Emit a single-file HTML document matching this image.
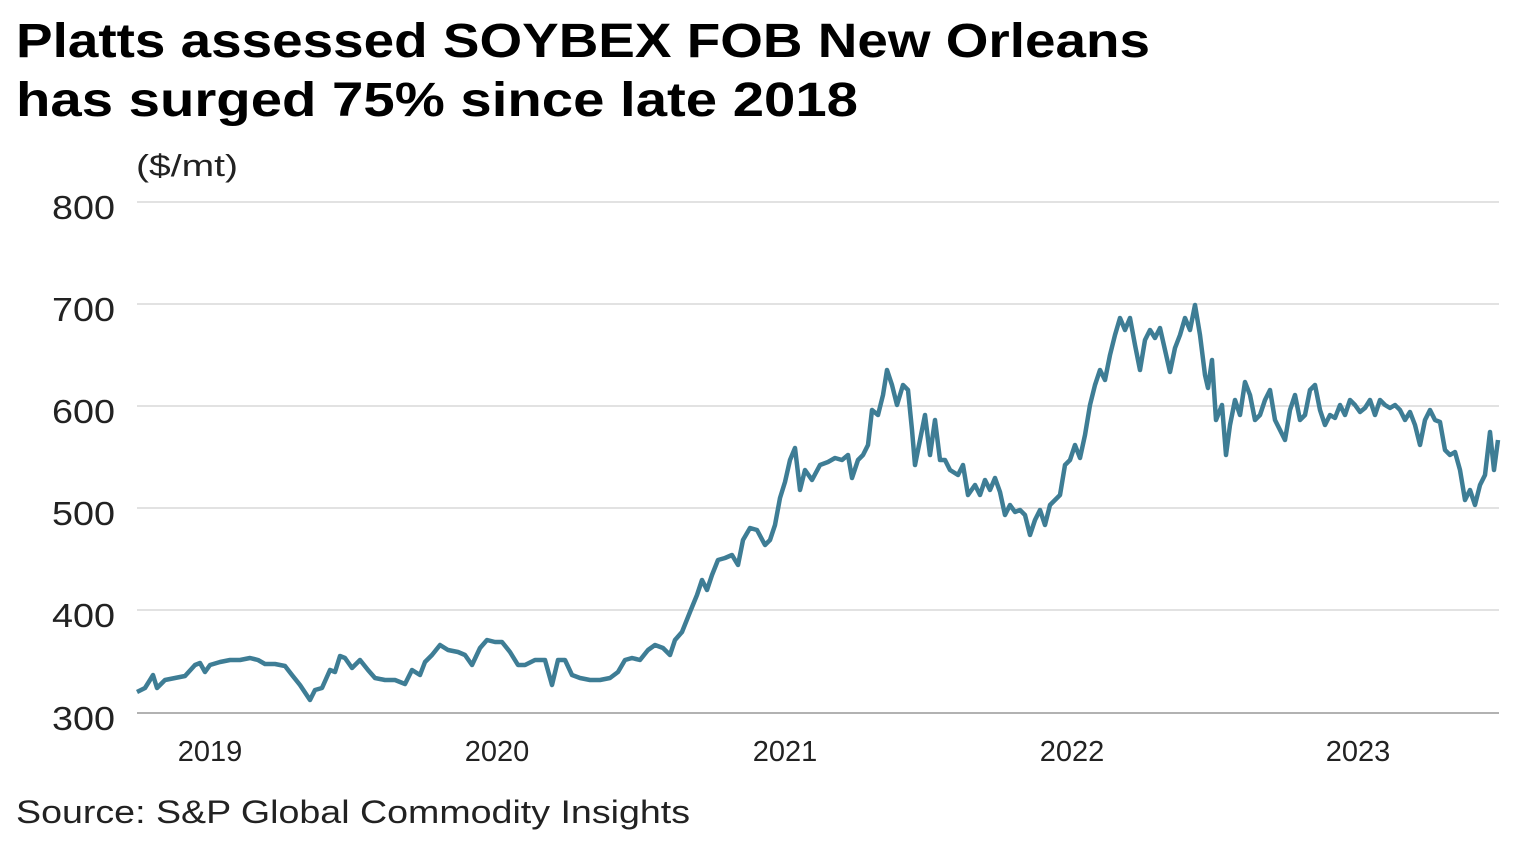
<!DOCTYPE html>
<html><head><meta charset="utf-8"><style>
body{margin:0;background:#fff;width:1514px;height:844px;overflow:hidden;font-family:"Liberation Sans",sans-serif;}
</style></head><body>
<svg width="1514" height="844" xmlns="http://www.w3.org/2000/svg" font-family="Liberation Sans, sans-serif">
<text x="16" y="57" font-size="48" font-weight="bold" fill="#000" textLength="1134" lengthAdjust="spacingAndGlyphs">Platts assessed SOYBEX FOB New Orleans</text>
<text x="16" y="116" font-size="48" font-weight="bold" fill="#000" textLength="842" lengthAdjust="spacingAndGlyphs">has surged 75% since late 2018</text>
<text x="136" y="176" font-size="31" fill="#222" textLength="102" lengthAdjust="spacingAndGlyphs">($/mt)</text>
<g stroke="#d0d0d0" stroke-width="1.2">
<line x1="137" x2="1499" y1="202" y2="202"/><line x1="137" x2="1499" y1="304" y2="304"/>
<line x1="137" x2="1499" y1="406" y2="406"/><line x1="137" x2="1499" y1="508" y2="508"/>
<line x1="137" x2="1499" y1="610" y2="610"/>
</g>
<line x1="137" x2="1499" y1="713" y2="713" stroke="#999" stroke-width="1.5"/>
<g font-size="33" fill="#222">
<text x="52" y="219" textLength="63" lengthAdjust="spacingAndGlyphs">800</text>
<text x="52" y="321" textLength="63" lengthAdjust="spacingAndGlyphs">700</text>
<text x="52" y="423" textLength="63" lengthAdjust="spacingAndGlyphs">600</text>
<text x="52" y="525" textLength="63" lengthAdjust="spacingAndGlyphs">500</text>
<text x="52" y="627" textLength="63" lengthAdjust="spacingAndGlyphs">400</text>
<text x="52" y="730" textLength="63" lengthAdjust="spacingAndGlyphs">300</text>
</g>
<g font-size="29" fill="#222" text-anchor="middle">
<text x="210" y="761">2019</text><text x="497" y="761">2020</text><text x="785" y="761">2021</text>
<text x="1072" y="761">2022</text><text x="1358" y="761">2023</text>
</g>
<polyline fill="none" stroke="#3e7d95" stroke-width="4.5" stroke-linejoin="round" points="137,692 145,688 150,680 153,675 157,688 165,680 175,678 185,676 195,665 200,663 205,672 210,665 220,662 230,660 240,660 250,658 258,660 265,664 275,664 285,666 292,675 300,685 310,700 315,690 322,688 330,670 335,672 340,656 345,658 352,668 360,660 368,670 375,678 385,680 395,680 405,684 412,670 420,675 425,662 432,655 440,645 448,650 458,652 465,655 472,665 480,648 487,640 495,642 502,642 510,652 518,665 525,665 535,660 545,660 552,685 558,660 565,660 572,675 580,678 590,680 600,680 610,678 618,672 625,660 632,658 640,660 648,650 655,645 663,648 670,655 675,640 682,632 690,612 697,595 702,580 707,590 712,575 718,560 725,558 732,555 738,565 743,540 750,528 757,530 765,545 770,540 775,525 780,498 785,482 790,460 795,448 800,490 805,470 812,480 820,465 828,462 835,458 842,460 848,455 852,478 858,460 863,455 868,445 872,410 878,415 883,395 887,370 892,385 897,405 903,385 908,390 912,430 915,465 920,440 925,415 930,455 935,420 940,460 945,460 950,470 958,475 963,465 968,495 975,485 980,495 985,480 990,490 995,478 1000,492 1005,515 1010,505 1015,512 1020,510 1025,515 1030,535 1035,520 1040,510 1045,525 1050,505 1055,500 1060,495 1065,465 1070,460 1075,445 1080,458 1085,435 1090,405 1095,385 1100,370 1105,380 1110,355 1115,335 1120,318 1125,330 1130,318 1135,345 1140,370 1145,340 1150,330 1155,338 1160,328 1165,350 1170,372 1175,348 1180,335 1185,318 1190,330 1195,305 1200,335 1205,375 1208,388 1212,360 1216,420 1222,405 1226,455 1230,425 1235,400 1240,415 1245,382 1250,395 1255,420 1260,415 1265,400 1270,390 1275,420 1280,430 1285,440 1290,410 1295,395 1300,420 1305,415 1310,390 1315,385 1320,410 1325,425 1330,415 1335,418 1340,405 1345,415 1350,400 1355,405 1360,412 1365,408 1370,400 1375,415 1380,400 1385,405 1390,408 1395,405 1400,410 1405,420 1410,412 1415,425 1420,445 1425,420 1430,410 1435,420 1440,422 1445,450 1450,455 1455,452 1460,470 1465,500 1470,490 1475,505 1480,485 1485,475 1490,432 1494,470 1498,440"/>
<text x="16" y="823" font-size="32" fill="#222" textLength="674" lengthAdjust="spacingAndGlyphs">Source: S&amp;P Global Commodity Insights</text>
</svg>
</body></html>
